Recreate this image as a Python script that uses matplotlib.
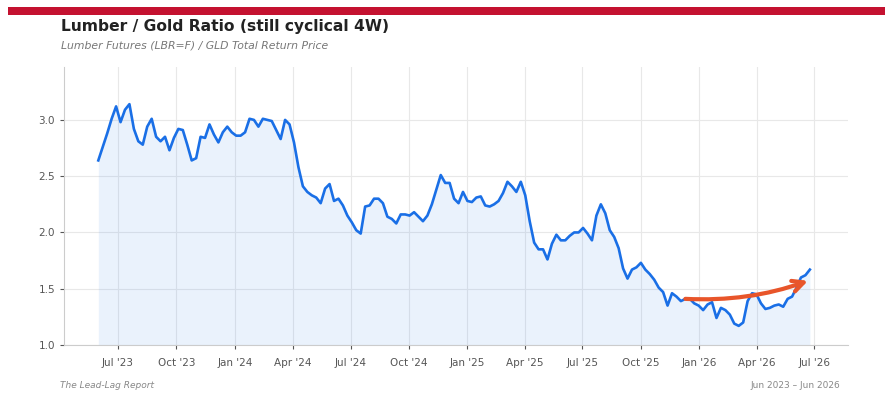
import numpy as np
import pandas as pd
import matplotlib.pyplot as plt
import matplotlib.dates as mdates

# weekly lumber / gold ratio
start_date = '2023-05-31'
ratio = [
    2.64, 2.76, 2.88, 3.01, 3.12, 2.98, 3.09, 3.14, 2.92, 2.81,
    2.78, 2.94, 3.01, 2.85, 2.81, 2.85, 2.73, 2.84, 2.92, 2.91,
    2.78, 2.64, 2.66, 2.85, 2.84, 2.96, 2.87, 2.80, 2.89, 2.94,
    2.89, 2.86, 2.86, 2.89, 3.01, 3.00, 2.94, 3.01, 3.00, 2.99,
    2.91, 2.83, 3.00, 2.96, 2.80, 2.58, 2.41, 2.36, 2.33, 2.31,
    2.26, 2.39, 2.43, 2.28, 2.30, 2.24, 2.15, 2.09, 2.02, 1.99,
    2.23, 2.24, 2.30, 2.30, 2.26, 2.14, 2.12, 2.08, 2.16, 2.16,
    2.15, 2.18, 2.14, 2.10, 2.15, 2.25, 2.38, 2.51, 2.44, 2.44,
    2.30, 2.26, 2.36, 2.28, 2.27, 2.31, 2.32, 2.24, 2.23, 2.25,
    2.28, 2.35, 2.45, 2.41, 2.36, 2.45, 2.33, 2.10, 1.91, 1.85,
    1.85, 1.76, 1.90, 1.98, 1.93, 1.93, 1.97, 2.00, 2.00, 2.04,
    1.99, 1.93, 2.15, 2.25, 2.17, 2.02, 1.96, 1.86, 1.68, 1.59,
    1.67, 1.69, 1.73, 1.67, 1.63, 1.58, 1.51, 1.47, 1.35, 1.46,
    1.43, 1.39, 1.41, 1.41, 1.37, 1.35, 1.31, 1.36, 1.38, 1.24,
    1.33, 1.31, 1.27, 1.19, 1.17, 1.20, 1.39, 1.46, 1.45, 1.37,
    1.32, 1.33, 1.35, 1.36, 1.34, 1.41, 1.43, 1.51, 1.60, 1.62,
    1.67,
]
dates = pd.date_range(start_date, periods=len(ratio), freq='7D')

# hand-drawn trend arrow
arrow_start = ('2025-12-10', 1.41)
arrow_end = ('2026-06-21', 1.57)

title = 'Lumber / Gold Ratio (still cyclical 4W)'
subtitle = 'Lumber Futures (LBR=F) / GLD Total Return Price'
source = 'The Lead-Lag Report'
span = 'Jun 2023 \u2013 Jun 2026'

fig = plt.figure(figsize=(8.85, 3.99), dpi=100)
fig.patch.set_facecolor('white')

# red band across the top
fig.add_artist(plt.Rectangle((8 / 885, 1 - 15 / 399), 1, 8 / 399,
                             transform=fig.transFigure, color='#c41230', lw=0))

ax = fig.add_axes([64 / 885, 1 - 345 / 399, (848 - 64) / 885, (345 - 67) / 399])

ax.fill_between(dates, ratio, 1.0, color='#1a73e8', alpha=0.09, lw=0)
ax.plot(dates, ratio, color='#1a6fe6', lw=1.9)

ax.annotate('', xy=(pd.Timestamp(arrow_end[0]), arrow_end[1]),
            xytext=(pd.Timestamp(arrow_start[0]), arrow_start[1]),
            arrowprops=dict(arrowstyle='->', color='#e8552a', lw=3,
                            mutation_scale=20,
                            connectionstyle='arc3,rad=0.1',
                            shrinkA=0, shrinkB=0))

ax.set_xlim(pd.Timestamp('2023-04-07'), pd.Timestamp('2026-08-23'))
ax.set_ylim(1.0, 3.47)
ax.set_yticks([1.0, 1.5, 2.0, 2.5, 3.0])
ax.yaxis.set_major_formatter(plt.FormatStrFormatter('%.1f'))
ax.xaxis.set_major_locator(mdates.MonthLocator(bymonth=[1, 4, 7, 10]))
ax.xaxis.set_major_formatter(mdates.DateFormatter("%b '%y"))

ax.grid(True, color='#e8e8e8', lw=0.8)
ax.set_axisbelow(True)
for s in ['top', 'right']:
    ax.spines[s].set_visible(False)
for s in ['left', 'bottom']:
    ax.spines[s].set_color('#cccccc')
ax.tick_params(colors='#555555', labelsize=7.5, length=3, width=0.8)
ax.tick_params(axis='x', pad=6)

fig.text(61 / 885, 1 - 27 / 399, title, fontsize=11.2, fontweight='bold',
         color='#222222', va='center', ha='left')
fig.text(61 / 885, 1 - 45 / 399, subtitle, fontsize=7.8, style='italic',
         color='#777777', va='center', ha='left')
fig.text(60 / 885, 1 - 385 / 399, source, fontsize=6.5, style='italic',
         color='#888888', va='center', ha='left')
fig.text(840 / 885, 1 - 385 / 399, span, fontsize=6.5,
         color='#888888', va='center', ha='right')

plt.savefig('out.png', dpi=100)
